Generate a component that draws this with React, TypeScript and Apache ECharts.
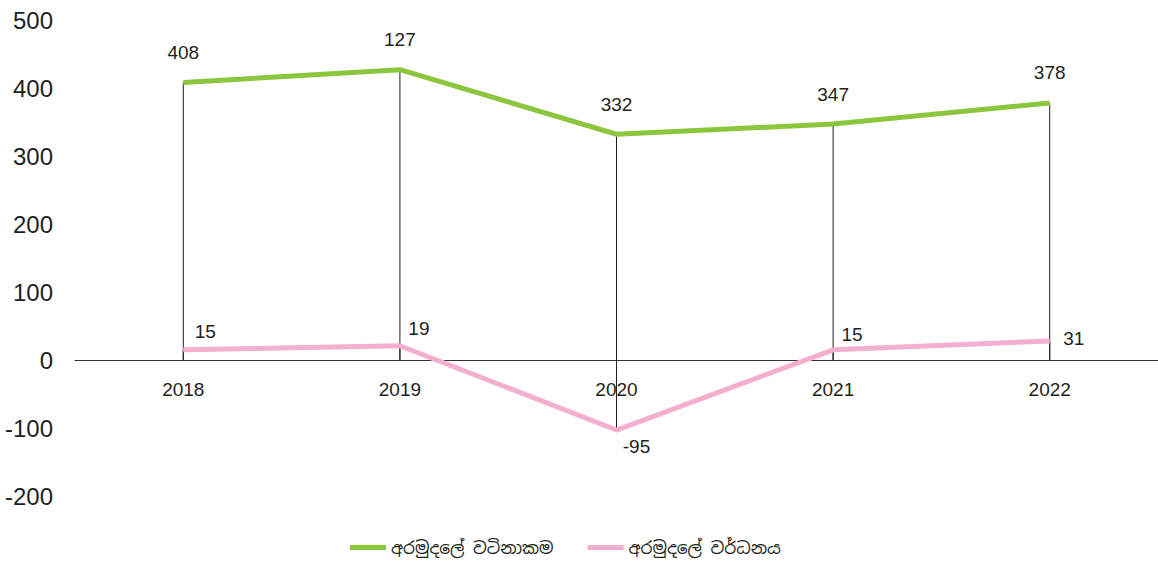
import React, { useEffect, useRef } from "react";
import * as echarts from "echarts";

const years = ["2018", "2019", "2020", "2021", "2022"];
const valueName = "අරමුදලේ වටිනාකම";
const growthName = "අරමුදලේ වර්ධනය";
const valueSeries = [408, 427, 332, 347, 378];
const valueLabels = ["408", "127", "332", "347", "378"];
const growthSeries = [15, 21, -103, 15, 28];
const growthLabels = ["15", "19", "-95", "15", "31"];
const yTicks = { min: -200, max: 500, interval: 100 };

const growthLabelOffsets: [number, number][] = [
  [22, -18],
  [19, -17],
  [20, 16],
  [19, -15],
  [24, -2],
];

const FONT = "'Liberation Sans Narrow', 'Liberation Sans', Arial, sans-serif";
const SIN_FONT = "'Noto Sans Sinhala', 'Noto Sans', 'DejaVu Sans', sans-serif";
const TEXT = "#231F20";
const GREEN = "#8CC63F";
const PINK = "#F3AED0";

const GRID_TOP = 20;
const GRID_BOTTOM = 67;
const HEIGHT = 563;

export default function App() {
  const ref = useRef<HTMLDivElement>(null);
  useEffect(() => {
    document.body.style.margin = "0";
    const chart = echarts.init(ref.current!, null, { renderer: "svg" });
    const gridH = HEIGHT - GRID_TOP - GRID_BOTTOM;
    const zeroShift = (gridH * (0 - yTicks.min)) / (yTicks.max - yTicks.min);
    chart.setOption({
      animation: false,
      grid: { left: 75, right: 0, top: GRID_TOP, bottom: GRID_BOTTOM },
      legend: {
        bottom: 2,
        left: 345,
        data: [valueName, growthName],
        icon: "rect",
        itemWidth: 36,
        itemHeight: 5,
        itemGap: 34,
        textStyle: { fontFamily: SIN_FONT, fontSize: 17, color: TEXT },
      },
      xAxis: {
        type: "category",
        data: years,
        offset: -zeroShift,
        axisLine: { onZero: false, lineStyle: { color: "#333333", width: 1 } },
        axisTick: { show: false },
        axisLabel: { fontFamily: FONT, fontSize: 19, color: TEXT, margin: 20 },
      },
      yAxis: {
        type: "value",
        min: yTicks.min,
        max: yTicks.max,
        interval: yTicks.interval,
        axisLine: { show: false },
        axisTick: { show: false },
        splitLine: { show: false },
        axisLabel: { fontFamily: FONT, fontSize: 24, color: TEXT, margin: 22 },
      },
      series: [
        {
          type: "bar",
          data: valueSeries,
          barWidth: 1,
          barGap: "-100%",
          itemStyle: { color: TEXT },
          silent: true,
          z: 1,
        },
        {
          type: "bar",
          data: growthSeries,
          barWidth: 1,
          barGap: "-100%",
          itemStyle: { color: TEXT },
          silent: true,
          z: 1,
        },
        {
          name: valueName,
          type: "line",
          data: valueSeries,
          symbol: "circle",
          symbolSize: 1,
          itemStyle: { color: GREEN },
          lineStyle: { color: GREEN, width: 5 },
          z: 3,
          label: {
            show: true,
            position: "top",
            distance: 20,
            fontFamily: FONT,
            fontSize: 19,
            color: TEXT,
            formatter: (p: any) => valueLabels[p.dataIndex],
          },
        },
        {
          name: growthName,
          type: "line",
          data: growthSeries.map((v, i) => ({
            value: v,
            label: { offset: growthLabelOffsets[i] },
          })),
          symbol: "circle",
          symbolSize: 1,
          itemStyle: { color: PINK },
          lineStyle: { color: PINK, width: 5 },
          z: 3,
          label: {
            show: true,
            position: "inside",
            align: "center",
            verticalAlign: "middle",
            fontFamily: FONT,
            fontSize: 19,
            color: TEXT,
            formatter: (p: any) => growthLabels[p.dataIndex],
          },
        },
      ],
    });
    return () => chart.dispose();
  }, []);
  return <div ref={ref} style={{ width: 1158, height: 563 }} />;
}
